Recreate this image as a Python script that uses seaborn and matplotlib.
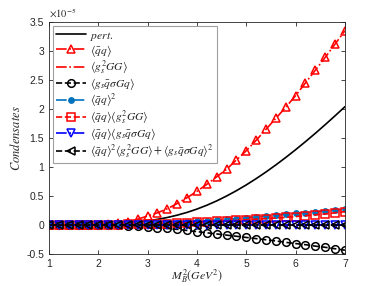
import numpy as np
import matplotlib
matplotlib.use("Agg")
import matplotlib.pyplot as plt
import seaborn as sns
from matplotlib.ticker import FuncFormatter, MultipleLocator

# Borel mass points M_B^2 (GeV^2)
m2 = [1.0, 1.2, 1.4, 1.6, 1.8, 2.0, 2.2, 2.4, 2.6, 2.8, 3.0, 3.2, 3.4, 3.6, 3.8, 4.0,
      4.2, 4.4, 4.6, 4.8, 5.0, 5.2, 5.4, 5.6, 5.8, 6.0, 6.2, 6.4, 6.6, 6.8, 7.0]

# contributions in units of 1e-5
pert = [0.0, 0.0, 0.0, 0.001, 0.003, 0.007, 0.013, 0.022, 0.035, 0.052, 0.072, 0.097,
        0.129, 0.169, 0.217, 0.274, 0.34, 0.415, 0.499, 0.591, 0.691, 0.799, 0.914,
        1.036, 1.164, 1.298, 1.437, 1.581, 1.73, 1.883, 2.04]
qq = [0.0, 0.0, 0.0, 0.001, 0.003, 0.008, 0.016, 0.03, 0.055, 0.10, 0.155, 0.21, 0.28,
      0.37, 0.47, 0.58, 0.70, 0.83, 0.96, 1.12, 1.28, 1.46, 1.65, 1.84, 2.03, 2.23, 2.45,
      2.67, 2.89, 3.12, 3.35]
g2gg = [0.0, 0.0, 0.0, 0.0, 0.0, 0.0, 0.0, 0.0, 0.0, 0.0, 0.0, 0.0, 0.0, 0.0, 0.0, 0.0,
        0.0, 0.0, 0.0, 0.0, 0.0, 0.0, 0.0, 0.0, 0.0, 0.0, 0.0, 0.0, 0.0, 0.0, 0.0]
sgq = [0.0, 0.0, 0.0, 0.0, -0.001, -0.002, -0.004, -0.007, -0.012, -0.02, -0.03, -0.045,
       -0.06, -0.075, -0.095, -0.115, -0.135, -0.155, -0.175, -0.195, -0.215, -0.235,
       -0.255, -0.275, -0.3, -0.32, -0.34, -0.365, -0.385, -0.41, -0.435]
qq2 = [0.0, 0.0, 0.0, 0.001, 0.002, 0.004, 0.006, 0.009, 0.012, 0.015, 0.02, 0.025,
       0.032, 0.04, 0.05, 0.06, 0.07, 0.08, 0.095, 0.11, 0.125, 0.14, 0.155, 0.17, 0.185,
       0.20, 0.215, 0.23, 0.245, 0.26, 0.27]
qq_g2gg = [0.0, 0.0, 0.0, 0.001, 0.002, 0.003, 0.005, 0.007, 0.009, 0.012, 0.015, 0.02,
           0.025, 0.031, 0.038, 0.045, 0.053, 0.062, 0.071, 0.08, 0.09, 0.10, 0.11, 0.12,
           0.13, 0.145, 0.16, 0.175, 0.19, 0.21, 0.23]
qq_sgq = [0.0, 0.0, 0.0, 0.0, 0.0, 0.0, 0.0, 0.0, 0.0, 0.0, 0.0, 0.0, 0.0, 0.0, 0.0, 0.0,
          0.0, 0.0, 0.0, 0.0, 0.0, 0.0, 0.0, 0.0, 0.0, 0.0, 0.0, 0.0, 0.0, 0.0, 0.0]
dim10 = [0.0, 0.0, 0.0, 0.0, 0.0, 0.0, 0.0, 0.0, 0.0, 0.0, 0.0, 0.0, 0.0, 0.0, 0.0, 0.0,
         0.0, 0.0, 0.0, 0.0, 0.0, 0.0, 0.0, 0.0, 0.0, 0.0, 0.0, 0.0, 0.0, 0.0, 0.0]

labels = [r"$pert.$",
          r"$\langle\bar{q}q\rangle$",
          r"$\langle g_s^2GG\rangle$",
          r"$\langle g_s\bar{q}\sigma Gq\rangle$",
          r"$\langle\bar{q}q\rangle^2$",
          r"$\langle\bar{q}q\rangle\langle g_s^2GG\rangle$",
          r"$\langle\bar{q}q\rangle\langle g_s\bar{q}\sigma Gq\rangle$",
          r"$\langle\bar{q}q\rangle^2\langle g_s^2GG\rangle+\langle g_s\bar{q}\sigma Gq\rangle^2$"]

sns.set_style("ticks")
plt.rcParams["font.family"] = ["Liberation Sans", "DejaVu Sans"]
plt.rcParams["mathtext.fontset"] = "stix"
plt.rcParams["axes.unicode_minus"] = False

fig = plt.figure(figsize=(3.82, 2.86), dpi=100)
ax = fig.add_axes([0.128, 0.112, 0.775, 0.811])

x = np.array(m2)
scale = 1e-5
series = [
    (pert, dict(color="black", linestyle="-", marker=None)),
    (qq, dict(color="red", linestyle="-.", marker="^", mfc="none")),
    (g2gg, dict(color="red", linestyle="-.", marker=None)),
    (sgq, dict(color="black", linestyle="--", marker="o", mfc="none")),
    (qq2, dict(color="#0072BD", linestyle="-.", marker="o", mfc="#0072BD", ms=3.8)),
    (qq_g2gg, dict(color="red", linestyle="--", marker="s", mfc="none")),
    (qq_sgq, dict(color="blue", linestyle="-.", marker="v", mfc="none")),
    (dim10, dict(color="black", linestyle="--", marker="<", mfc="none")),
]
for (vals, st), lab in zip(series, labels):
    kw = dict(color=st["color"], linestyle=st["linestyle"], linewidth=1.2, label=lab)
    if st["marker"] is not None:
        kw.update(marker=st["marker"], markerfacecolor=st["mfc"],
                  markeredgecolor=st["color"], markersize=st.get("ms", 5.5),
                  markeredgewidth=1.1)
    sns.lineplot(x=x, y=np.array(vals) * scale, ax=ax, **kw)

ax.set_xlim(1, 7)
ax.set_ylim(-0.5e-5, 3.5e-5)
ax.xaxis.set_major_locator(MultipleLocator(1))
ax.yaxis.set_major_locator(MultipleLocator(0.5e-5))
ax.yaxis.set_major_formatter(FuncFormatter(lambda v, p: "%g" % round(v / scale, 2)))
ax.tick_params(direction="in", top=True, right=True, labelsize=7.5, colors="#262626",
               length=3, width=0.6)
for s in ax.spines.values():
    s.set_color("#262626")
    s.set_linewidth(0.6)

ax.text(0.0, 1.01, r"$\times10^{-5}$", transform=ax.transAxes, fontsize=7.5,
        color="#262626", ha="left", va="bottom")
ax.set_xlabel(r"$M_B^2(GeV^2)$", fontsize=8.5, labelpad=-1)
ax.set_ylabel(r"$Condensates$", fontsize=9, labelpad=2)

leg = ax.legend(loc="upper left", fontsize=8.3, handlelength=2.6, numpoints=1,
                borderaxespad=0.35, labelspacing=0.0, handletextpad=0.3,
                borderpad=0.3, fancybox=False, framealpha=1)
leg.get_frame().set_edgecolor("#a0a0a0")
leg.get_frame().set_linewidth(0.8)

fig.savefig("out.png", dpi=100)
